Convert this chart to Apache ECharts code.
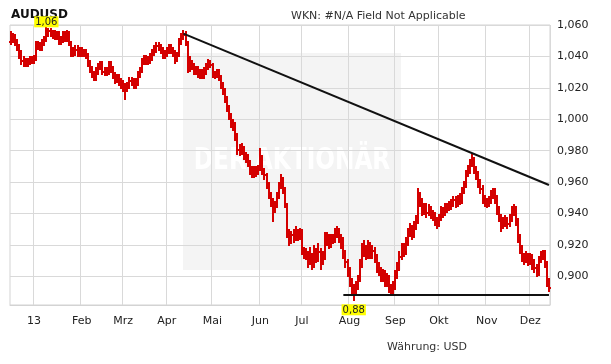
<!DOCTYPE html>
<html><head><meta charset="utf-8">
<script src="https://cdn.jsdelivr.net/npm/echarts@6/dist/echarts.min.js"></script>
<style>html,body{margin:0;padding:0;background:#fff}#c{width:611px;height:364px}</style>
</head><body><div id="c"></div>
<script>
// ---- data ----
var firstDate = '2012-12-17';
var barCount = 260;
var firstOpen = 1.050;
var closes = [
1.053,1.052,1.049,1.046,1.042,1.038,1.036,1.037,1.036,1.038,
1.038,1.039,1.048,1.047,1.046,1.049,1.051,1.054,1.057,1.055,
1.055,1.053,1.054,1.050,1.051,1.054,1.052,1.055,1.049,1.042,
1.043,1.045,1.042,1.044,1.042,1.043,1.041,1.036,1.032,1.029,
1.027,1.031,1.034,1.035,1.031,1.030,1.031,1.035,1.032,1.028,
1.026,1.027,1.024,1.023,1.021,1.020,1.022,1.025,1.024,1.022,
1.024,1.029,1.031,1.037,1.039,1.037,1.038,1.040,1.043,1.045,
1.047,1.046,1.044,1.041,1.042,1.044,1.046,1.044,1.042,1.039,
1.041,1.050,1.053,1.054,1.049,1.033,1.036,1.034,1.031,1.032,
1.029,1.030,1.028,1.031,1.034,1.036,1.035,1.029,1.029,1.030,
1.027,1.022,1.019,1.014,1.007,1.003,0.998,0.996,0.990,0.981,
0.980,0.982,0.977,0.976,0.972,0.968,0.966,0.968,0.967,0.969,
0.976,0.967,0.965,0.958,0.952,0.948,0.944,0.946,0.952,0.958,
0.962,0.955,0.946,0.928,0.924,0.927,0.925,0.928,0.926,0.929,
0.917,0.915,0.914,0.910,0.913,0.908,0.915,0.912,0.916,0.910,
0.913,0.922,0.925,0.921,0.925,0.924,0.927,0.929,0.925,0.924,
0.915,0.910,0.904,0.897,0.893,0.890,0.895,0.898,0.908,0.916,
0.918,0.914,0.920,0.915,0.917,0.912,0.906,0.904,0.900,0.902,
0.897,0.899,0.893,0.891,0.894,0.901,0.906,0.913,0.918,0.916,
0.922,0.928,0.930,0.927,0.932,0.936,0.952,0.948,0.942,0.944,
0.941,0.943,0.940,0.939,0.936,0.934,0.938,0.942,0.941,0.945,
0.944,0.946,0.947,0.949,0.947,0.950,0.949,0.955,0.959,0.966,
0.968,0.972,0.974,0.968,0.965,0.960,0.956,0.950,0.948,0.947,
0.949,0.952,0.954,0.950,0.943,0.938,0.933,0.935,0.936,0.934,
0.937,0.941,0.943,0.936,0.925,0.918,0.913,0.911,0.913,0.910,
0.912,0.909,0.906,0.903,0.911,0.913,0.915,0.909,0.897,0.893];
var highs = [
1.056,1.055,1.054,1.051,1.048,1.044,1.040,1.039,1.039,1.040,
1.040,1.041,1.050,1.050,1.049,1.051,1.053,1.0598,1.058,1.058,
1.057,1.057,1.056,1.056,1.053,1.056,1.056,1.057,1.056,1.050,
1.046,1.047,1.047,1.046,1.046,1.045,1.045,1.042,1.038,1.034,
1.031,1.033,1.036,1.037,1.037,1.033,1.033,1.037,1.037,1.034,
1.030,1.029,1.029,1.026,1.025,1.023,1.024,1.027,1.027,1.026,
1.026,1.031,1.033,1.039,1.041,1.041,1.040,1.042,1.045,1.047,
1.049,1.049,1.048,1.046,1.044,1.046,1.048,1.048,1.046,1.044,
1.043,1.052,1.055,1.057,1.056,1.050,1.040,1.038,1.036,1.034,
1.034,1.032,1.032,1.033,1.036,1.0385,1.038,1.036,1.031,1.032,
1.032,1.028,1.024,1.020,1.015,1.009,1.004,1.000,0.998,0.991,
0.984,0.985,0.983,0.979,0.978,0.974,0.970,0.970,0.970,0.971,
0.982,0.977,0.969,0.966,0.960,0.954,0.950,0.948,0.954,0.960,
0.965,0.963,0.957,0.947,0.930,0.929,0.930,0.932,0.930,0.931,
0.930,0.919,0.918,0.916,0.919,0.915,0.920,0.918,0.921,0.918,
0.916,0.928,0.928,0.927,0.927,0.927,0.931,0.932,0.931,0.927,
0.925,0.917,0.911,0.906,0.899,0.895,0.897,0.901,0.911,0.921,
0.923,0.920,0.923,0.922,0.920,0.919,0.914,0.909,0.906,0.905,
0.904,0.902,0.901,0.895,0.897,0.904,0.909,0.916,0.921,0.921,
0.925,0.931,0.934,0.933,0.935,0.939,0.956,0.954,0.950,0.947,
0.947,0.946,0.945,0.942,0.941,0.938,0.940,0.945,0.944,0.947,
0.947,0.948,0.949,0.951,0.951,0.952,0.953,0.957,0.961,0.968,
0.971,0.975,0.978,0.976,0.970,0.967,0.962,0.958,0.952,0.950,
0.951,0.955,0.956,0.956,0.952,0.945,0.940,0.938,0.939,0.938,
0.940,0.945,0.946,0.945,0.937,0.927,0.920,0.915,0.916,0.915,
0.915,0.914,0.911,0.908,0.913,0.916,0.917,0.917,0.910,0.899];
var lows = [
1.048,1.049,1.047,1.044,1.039,1.035,1.034,1.034,1.034,1.035,
1.036,1.036,1.038,1.045,1.044,1.044,1.047,1.050,1.053,1.053,
1.052,1.051,1.051,1.048,1.048,1.049,1.050,1.050,1.047,1.040,
1.040,1.041,1.040,1.040,1.040,1.040,1.039,1.034,1.030,1.027,
1.025,1.025,1.029,1.032,1.029,1.028,1.028,1.029,1.030,1.026,
1.023,1.024,1.022,1.020,1.018,1.013,1.018,1.020,1.022,1.020,
1.020,1.022,1.027,1.030,1.035,1.035,1.035,1.036,1.038,1.041,
1.043,1.044,1.042,1.039,1.039,1.040,1.042,1.042,1.040,1.036,
1.037,1.040,1.048,1.051,1.047,1.030,1.031,1.032,1.029,1.029,
1.027,1.026,1.026,1.026,1.029,1.032,1.033,1.027,1.026,1.027,
1.025,1.020,1.016,1.011,1.005,1.000,0.995,0.993,0.987,0.978,
0.977,0.978,0.975,0.973,0.970,0.965,0.963,0.963,0.964,0.965,
0.968,0.965,0.962,0.956,0.950,0.945,0.935,0.941,0.944,0.950,
0.956,0.953,0.944,0.925,0.920,0.921,0.922,0.923,0.923,0.924,
0.914,0.912,0.911,0.906,0.908,0.905,0.906,0.909,0.910,0.905,
0.908,0.911,0.920,0.918,0.919,0.921,0.922,0.925,0.922,0.918,
0.912,0.906,0.900,0.894,0.889,0.8848,0.888,0.892,0.897,0.906,
0.913,0.911,0.912,0.912,0.912,0.909,0.903,0.901,0.897,0.897,
0.894,0.894,0.890,0.888,0.889,0.892,0.899,0.904,0.911,0.913,
0.914,0.920,0.926,0.924,0.925,0.930,0.934,0.945,0.939,0.940,
0.938,0.939,0.937,0.936,0.933,0.931,0.932,0.936,0.938,0.939,
0.941,0.942,0.943,0.945,0.944,0.945,0.946,0.947,0.953,0.957,
0.964,0.966,0.970,0.966,0.962,0.957,0.953,0.947,0.945,0.944,
0.945,0.947,0.950,0.947,0.940,0.935,0.929,0.931,0.932,0.931,
0.932,0.935,0.939,0.933,0.922,0.915,0.910,0.908,0.909,0.907,
0.908,0.905,0.903,0.900,0.901,0.909,0.911,0.906,0.894,0.891];
var monthNames = ['13','Feb','Mrz','Apr','Mai','Jun','Jul','Aug','Sep','Okt','Nov','Dez'];
var yTicks = [0.90,0.92,0.94,0.96,0.98,1.00,1.02,1.04,1.06];
var highLabel = {index: 17, value: 1.0598, text: '1,06'};
var lowLabel = {index: 165, value: 0.8848, text: '0,88'};
var resistance = [[83, 1.0545], [259, 0.9582]];
var support = [[160, 0.8882], [259, 0.8882]];

// ---- build ----
var dates = [];
(function(){
  var d = new Date(firstDate + 'T00:00:00Z');
  while (dates.length < barCount) {
    var wd = d.getUTCDay();
    if (wd !== 0 && wd !== 6) dates.push(d.toISOString().slice(0,10));
    d.setUTCDate(d.getUTCDate() + 1);
  }
})();
var ohlc = closes.map(function(c, i){
  var o = i === 0 ? firstOpen : closes[i-1];
  return [i, o, c, lows[i], highs[i]];
});
function isMonthStart(idx){
  return idx > 0 && dates[idx].slice(5,7) !== dates[idx-1].slice(5,7);
}
var RED = '#d40000';
var FONT = 'DejaVu Sans';
var chart = echarts.init(document.getElementById('c'), null, {renderer:'canvas'});
chart.setOption({
  backgroundColor: '#ffffff',
  animation: false,
  grid: {left: 10, right: 61, top: 25, bottom: 59, show: true, borderColor: '#d3d3d3', borderWidth: 1, backgroundColor: 'transparent'},
  xAxis: {
    type: 'category', data: dates, boundaryGap: true,
    axisLine: {show: true, lineStyle: {color: '#d3d3d3'}},
    axisTick: {show: false},
    axisLabel: {
      interval: function(i){ return isMonthStart(i); },
      formatter: function(v){ return monthNames[parseInt(v.slice(5,7),10)-1]; },
      color: '#222', fontFamily: FONT, fontSize: 11, margin: 11
    },
    splitLine: {show: true, interval: function(i){ return isMonthStart(i); }, lineStyle: {color: '#d9d9d9', width: 1}}
  },
  yAxis: {
    type: 'value', position: 'right', min: 0.8818, max: 1.06, splitNumber: 9, scale: true,
    axisLine: {show: false}, axisTick: {show: false},
    axisLabel: {
      color: '#222', fontFamily: FONT, fontSize: 11, margin: 7,
      formatter: function(v){
        for (var k = 0; k < yTicks.length; k++) {
          if (Math.abs(v - yTicks[k]) < 1e-6) return yTicks[k].toFixed(3).replace('.', ',');
        }
        return '';
      }
    },
    splitLine: {show: true, lineStyle: {color: '#d9d9d9', width: 1}}
  },
  graphic: [
    {type: 'rect', z: -10, shape: {x: 183, y: 53, width: 218, height: 217}, style: {fill: '#f4f4f4'}},
    {type: 'text', z: -9, x: 292, y: 161, scaleX: 0.86, scaleY: 1,
      style: {x: 0, y: 0, text: 'DER AKTIONÄR', fill: '#ffffff',
      font: 'bold 30px "Liberation Sans Narrow", "DejaVu Sans Condensed", sans-serif', textAlign: 'center', textVerticalAlign: 'middle'}},
    {type: 'text', style: {x: 11, y: 15, text: 'AUDUSD', fill: '#111', font: 'bold 12px "DejaVu Sans"', textVerticalAlign: 'middle'}},
    {type: 'text', style: {x: 291, y: 16.5, text: 'WKN: #N/A Field Not Applicable', fill: '#333', font: '11px "DejaVu Sans"', textVerticalAlign: 'middle'}},
    {type: 'text', style: {x: 387, y: 347, text: 'Währung: USD', fill: '#333', font: '11px "DejaVu Sans"', textVerticalAlign: 'middle'}}
  ],
  series: [
    {
      type: 'custom', data: ohlc, encode: {x: 0, y: [1,2,3,4]}, z: 3,
      itemStyle: {color: RED},
      renderItem: function(params, api){
        var i = api.value(0);
        var o = api.coord([i, api.value(1)]);
        var c = api.coord([i, api.value(2)]);
        var l = api.coord([i, api.value(3)]);
        var h = api.coord([i, api.value(4)]);
        var x = Math.round(o[0] - 1);
        var yh = Math.round(h[1]), yl = Math.round(l[1]);
        var yo = Math.round(o[1]), yc = Math.round(c[1]);
        return {type: 'group', children: [
          {type: 'rect', shape: {x: x, y: yh, width: 2, height: Math.max(1, yl - yh + 1)}, style: {fill: RED, stroke: null}},
          {type: 'rect', shape: {x: x - 1, y: yo, width: 1, height: 2}, style: {fill: RED, stroke: null}},
          {type: 'rect', shape: {x: x + 2, y: yc, width: 1, height: 2}, style: {fill: RED, stroke: null}}
        ]};
      },
      markPoint: {
        symbol: 'circle', symbolSize: 0,
        data: [
          {coord: [highLabel.index, highLabel.value], value: highLabel.text,
           label: {show: true, position: 'top', distance: -2, formatter: highLabel.text, backgroundColor: '#ffff00', color: '#222', fontFamily: FONT, fontSize: 10, lineHeight: 10, padding: [1,1,0,1]}},
          {coord: [lowLabel.index, lowLabel.value], value: lowLabel.text,
           label: {show: true, position: 'bottom', distance: 4, formatter: lowLabel.text, backgroundColor: '#ffff00', color: '#222', fontFamily: FONT, fontSize: 10, lineHeight: 10, padding: [1,1,0,1]}}
        ]
      }
    },
    {type: 'line', data: resistance, symbol: 'none', z: 4, lineStyle: {color: '#111', width: 2}},
    {type: 'line', data: support, symbol: 'none', z: 4, lineStyle: {color: '#111', width: 2}}
  ]
});
</script>
</body></html>
